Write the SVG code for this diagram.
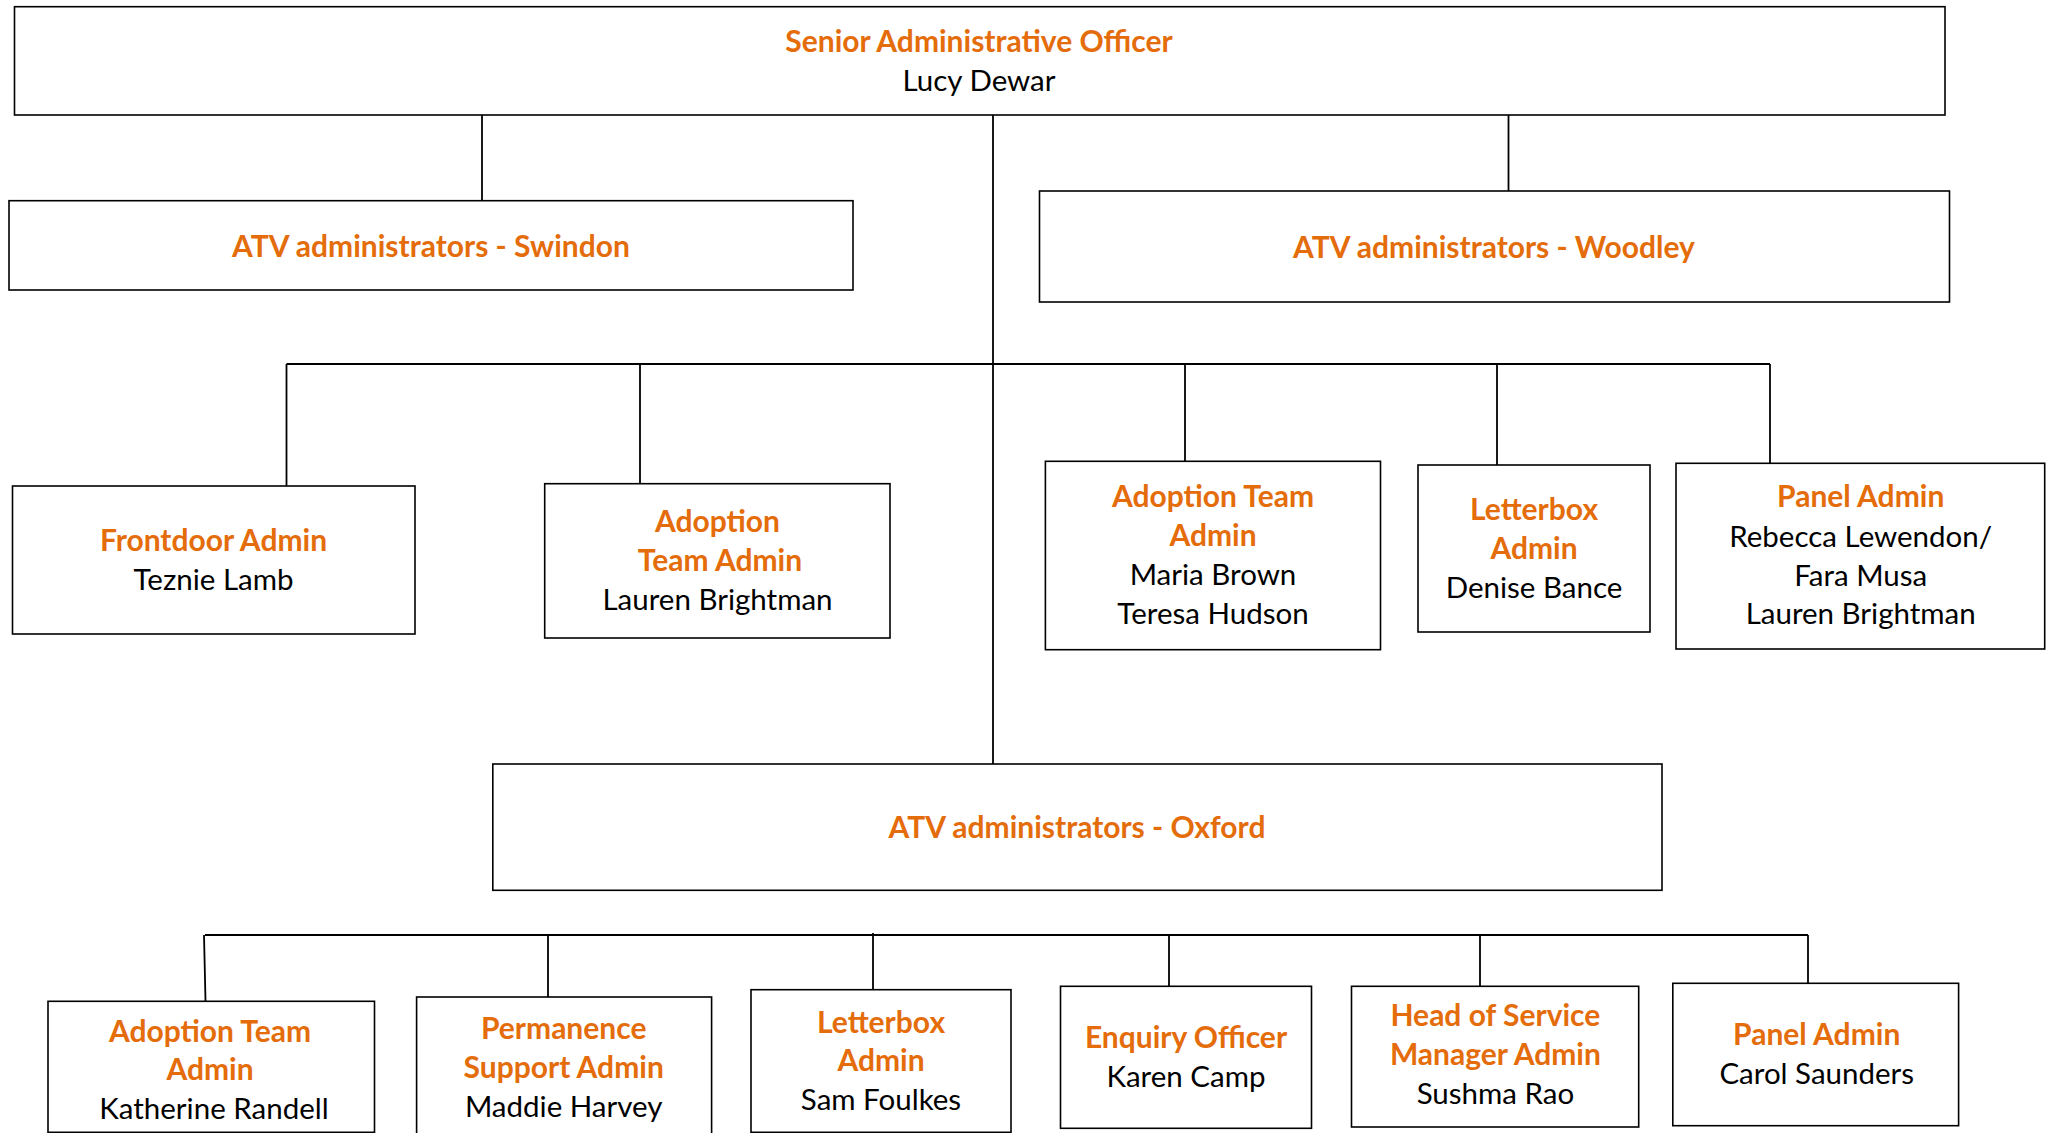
<svg xmlns="http://www.w3.org/2000/svg" width="2055" height="1133" viewBox="0 0 2055 1133">
<style>
.box{fill:#fff;stroke:#000;stroke-width:1.6}
.t{font-family:Lato,"Open Sans","Liberation Sans",sans-serif;font-weight:bold;font-size:30px;fill:#E46C0A;text-anchor:middle}
.n{font-family:Lato,"Open Sans","Liberation Sans",sans-serif;font-size:29.5px;fill:#000;text-anchor:middle}
.c{stroke:#000;stroke-width:1.8;fill:none}
</style>
<rect width="2055" height="1133" fill="#fff"/>
<g id="connectors">
<line class="c" x1="482" y1="115" x2="482" y2="201"/>
<line class="c" x1="1508.5" y1="115" x2="1508.5" y2="191"/>
<line class="c" x1="993" y1="115" x2="993" y2="764"/>
<line class="c" x1="286.5" y1="364" x2="1770" y2="364"/>
<line class="c" x1="286.5" y1="364" x2="286.5" y2="486"/>
<line class="c" x1="640" y1="364" x2="640" y2="484"/>
<line class="c" x1="1185" y1="364" x2="1185" y2="461"/>
<line class="c" x1="1497" y1="364" x2="1497" y2="465"/>
<line class="c" x1="1770" y1="364" x2="1770" y2="463"/>
<line class="c" x1="205" y1="935" x2="1808" y2="935"/>
<line class="c" x1="204" y1="935" x2="205.5" y2="1001"/>
<line class="c" x1="548" y1="935" x2="548" y2="997"/>
<line class="c" x1="873" y1="933" x2="873" y2="990"/>
<line class="c" x1="1169" y1="935" x2="1169" y2="986"/>
<line class="c" x1="1480" y1="935" x2="1480" y2="986"/>
<line class="c" x1="1808" y1="935" x2="1808" y2="983"/>
</g>
<g id="senior">
<rect class="box" x="14.5" y="6.7" width="1930.5" height="108.3"/>
<text class="t" x="979" y="52">Senior Administrative Officer</text>
<text class="n" x="979" y="91">Lucy Dewar</text>
</g>
<g id="swindon">
<rect class="box" x="9" y="200.7" width="844" height="89.3"/>
<text class="t" x="431" y="257">ATV administrators - Swindon</text>
</g>
<g id="woodley">
<rect class="box" x="1039.5" y="191" width="910" height="111"/>
<text class="t" x="1494" y="258">ATV administrators - Woodley</text>
</g>
<g id="frontdoor">
<rect class="box" x="12.5" y="486" width="402.5" height="148"/>
<text class="t" x="213.5" y="551">Frontdoor Admin</text>
<text class="n" x="213.5" y="590">Teznie Lamb</text>
</g>
<g id="adoption-lauren">
<rect class="box" x="544.7" y="483.7" width="345.3" height="154.3"/>
<text class="t" x="717.5" y="532">Adoption</text>
<text class="t" x="720" y="571">Team Admin</text>
<text class="n" x="717.5" y="610">Lauren Brightman</text>
</g>
<g id="adoption-maria">
<rect class="box" x="1045.4" y="461.3" width="335.1" height="188.4"/>
<text class="t" x="1213" y="507">Adoption Team</text>
<text class="t" x="1213" y="546">Admin</text>
<text class="n" x="1213" y="585">Maria Brown</text>
<text class="n" x="1213" y="624">Teresa Hudson</text>
</g>
<g id="letterbox-denise">
<rect class="box" x="1418" y="465" width="232" height="167"/>
<text class="t" x="1534" y="520">Letterbox</text>
<text class="t" x="1534" y="559">Admin</text>
<text class="n" x="1534" y="598">Denise Bance</text>
</g>
<g id="panel-rebecca">
<rect class="box" x="1676" y="463.3" width="368.7" height="185.7"/>
<text class="t" x="1860.7" y="507">Panel Admin</text>
<text class="n" x="1860.7" y="547">Rebecca Lewendon/</text>
<text class="n" x="1860.7" y="586">Fara Musa</text>
<text class="n" x="1860.7" y="624">Lauren Brightman</text>
</g>
<g id="oxford">
<rect class="box" x="492.8" y="764" width="1169.2" height="126.3"/>
<text class="t" x="1077" y="838">ATV administrators - Oxford</text>
</g>
<g id="adoption-katherine">
<rect class="box" x="48" y="1001.3" width="326.5" height="131"/>
<text class="t" x="210" y="1042">Adoption Team</text>
<text class="t" x="210" y="1080">Admin</text>
<text class="n" x="214" y="1119">Katherine Randell</text>
</g>
<g id="permanence">
<rect class="box" x="416.6" y="997" width="295" height="140"/>
<text class="t" x="563.7" y="1039">Permanence</text>
<text class="t" x="563.7" y="1078">Support Admin</text>
<text class="n" x="563.7" y="1117">Maddie Harvey</text>
</g>
<g id="letterbox-sam">
<rect class="box" x="751" y="989.7" width="260" height="142.6"/>
<text class="t" x="881" y="1033">Letterbox</text>
<text class="t" x="881" y="1071">Admin</text>
<text class="n" x="881" y="1110">Sam Foulkes</text>
</g>
<g id="enquiry">
<rect class="box" x="1060.5" y="986.3" width="251" height="142"/>
<text class="t" x="1186" y="1048">Enquiry Officer</text>
<text class="n" x="1186" y="1087">Karen Camp</text>
</g>
<g id="head-of-service">
<rect class="box" x="1351.5" y="986.3" width="287.2" height="140.7"/>
<text class="t" x="1495.4" y="1026">Head of Service</text>
<text class="t" x="1495.4" y="1065">Manager Admin</text>
<text class="n" x="1495.4" y="1104">Sushma Rao</text>
</g>
<g id="panel-carol">
<rect class="box" x="1672.8" y="983.3" width="285.8" height="142.4"/>
<text class="t" x="1816.7" y="1045">Panel Admin</text>
<text class="n" x="1816.7" y="1084">Carol Saunders</text>
</g>
</svg>
